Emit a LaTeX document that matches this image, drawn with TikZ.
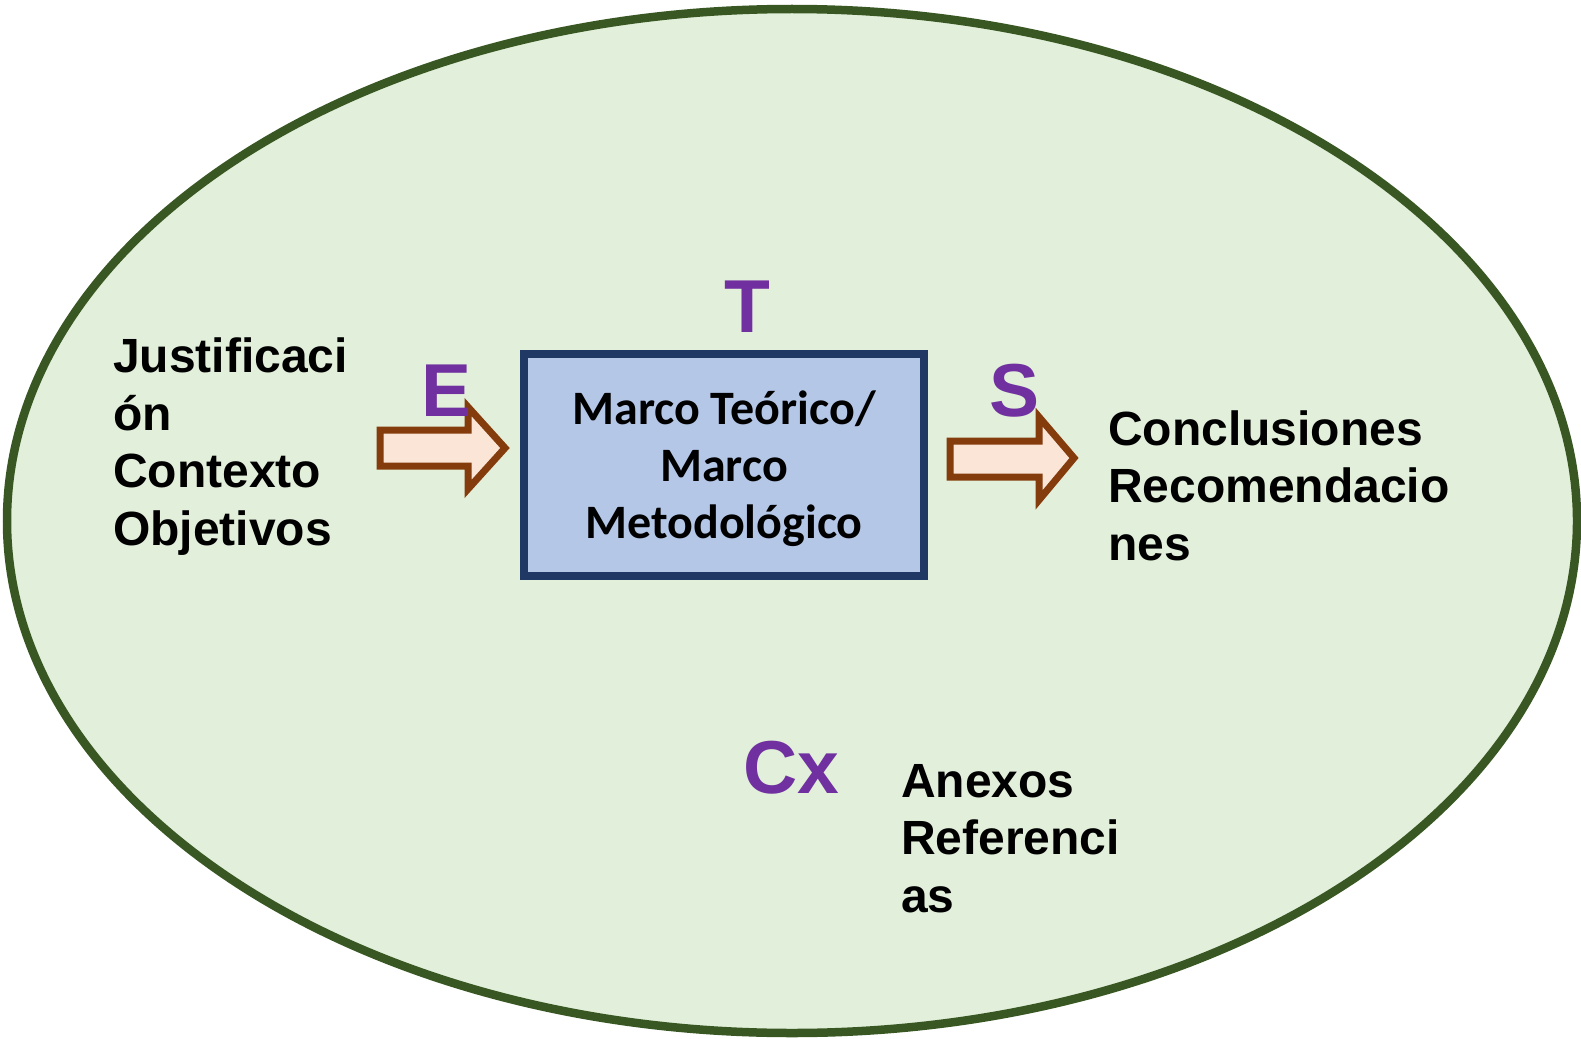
\documentclass[tikz,border=0pt]{standalone}
\usepackage{fontspec}
\setmainfont{Liberation Sans}
\newfontfamily\boxfont{Carlito}
\definecolor{ellfill}{HTML}{E2EFDA}
\definecolor{elldraw}{HTML}{385723}
\definecolor{boxfill}{HTML}{B4C7E7}
\definecolor{boxdraw}{HTML}{203864}
\definecolor{arrfill}{HTML}{FBE5D6}
\definecolor{arrdraw}{HTML}{843C0C}
\definecolor{letter}{HTML}{7030A0}
\begin{document}
\begin{tikzpicture}[x=1pt,y=-1pt,
  lbl/.style={inner sep=0pt, align=left, font=\fontsize{48}{57.5}\selectfont\bfseries},
  bigletter/.style={inner sep=0pt, text=letter, font=\fontsize{75}{80}\selectfont\bfseries},
  blockarrow/.style={draw=arrdraw, fill=arrfill, line width=7pt, miter limit=10},
  mainbox/.style={draw=boxdraw, fill=boxfill, line width=7.5pt, minimum width=400pt, minimum height=222pt, inner sep=0pt},
  boxtext/.style={inner sep=0pt, align=center, font=\boxfont\fontsize{48}{57}\selectfont\bfseries}]
\useasboundingbox (0,0) rectangle (1581,1038);
% outer ellipse
\draw[fill=ellfill, draw=elldraw, line width=8.5pt] (792,521) ellipse [x radius=785, y radius=512];
% central box
\node[mainbox] (box) at (724,465) {};
\node[boxtext, anchor=base] (boxlabel) at (724,538) {Marco Teórico/\\Marco\\Metodológico};
% block arrows
\draw[blockarrow] (380,430) -- (468,430) -- (468,407) -- (505,448) -- (468,489) -- (468,466) -- (380,466) -- cycle;
\draw[blockarrow] (950,441) -- (1039,441) -- (1039,417) -- (1074,458) -- (1039,500) -- (1039,477) -- (950,477) -- cycle;
% texts (base anchor = baseline of last line)
\node[lbl, anchor=base west] (left) at (113,545) {Justificaci\\ón\\Contexto\\Objetivos};
\node[lbl, anchor=base west] (right) at (1108,560) {Conclusiones\\Recomendacio\\nes};
\node[lbl, anchor=base west] (anexos) at (901,912) {Anexos\\Referenci\\as};
% letters
\node[bigletter, anchor=base] (T) at (747.5,332) {T};
\node[bigletter, anchor=base] (E) at (447,416) {E};
\node[bigletter, anchor=base] (S) at (1014.5,416) {S};
\node[bigletter, anchor=base west] (Cx) at (743.5,793) {Cx};
\end{tikzpicture}
\end{document}
